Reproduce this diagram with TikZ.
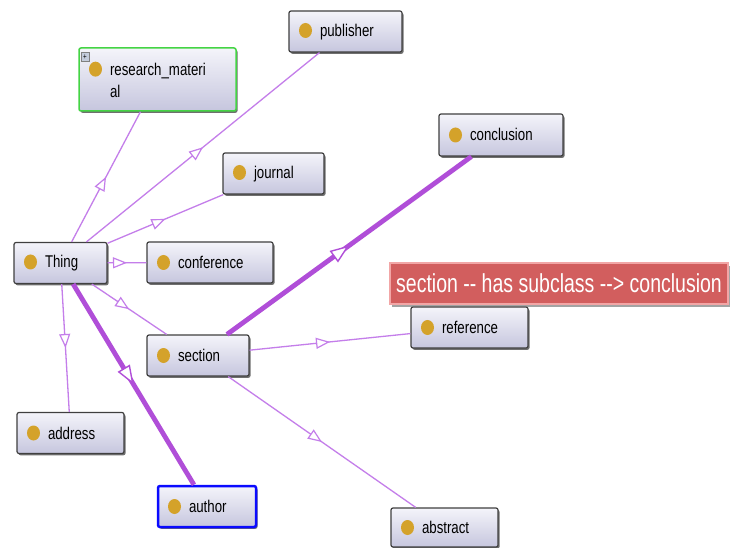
\documentclass[tikz,border=0pt]{standalone}
\usepackage{fontspec}
\setmainfont{Liberation Sans}[FakeStretch=0.78]
\newfontfamily\tipfont{Liberation Sans}[FakeStretch=0.75]
\usetikzlibrary{arrows.meta,decorations.markings,shadows}
\definecolor{thinc}{HTML}{C47EEA}
\definecolor{thickc}{HTML}{B04ED8}
\definecolor{dotc}{HTML}{D4A22A}
\definecolor{bordc}{HTML}{404040}
\definecolor{topc}{HTML}{F4F4FA}
\definecolor{botc}{HTML}{C6C6DE}
\definecolor{tipfill}{HTML}{D25E5E}
\definecolor{tipborder}{HTML}{F2A6A6}
\definecolor{plusc}{HTML}{C4CCDC}
\definecolor{greenb}{HTML}{44D444}
\definecolor{blueb}{HTML}{0A0AFF}
\newcommand{\owldot}{\tikz[x=1cm,y=1cm,baseline=-6pt]\fill[dotc] (0,0) ellipse [x radius=6.5pt, y radius=7.5pt];}
\tikzset{
  owl/.style={draw=bordc, line width=1.2pt, rounded corners=2pt,
    top color=topc, bottom color=botc,
    drop shadow={shadow xshift=1.5pt, shadow yshift=-1.8pt, fill=black!80, opacity=0.7},
    minimum height=41pt, inner xsep=10pt, inner ysep=0pt, align=left,
    text width=#1, font=\fontsize{17}{22}\selectfont},
  isa/.style={color=thinc, line width=1.3pt, postaction={decorate},
    decoration={markings, mark=at position 0.5 with {\arrow{Triangle[open, length=14pt, width=11pt, line width=1.2pt, fill=white]}}}},
  isathick/.style={color=thickc, line width=4.8pt, postaction={decorate},
    decoration={markings, mark=at position 0.5 with {\arrow{Triangle[open, length=19pt, width=14pt, line width=1.4pt, fill=white]}}}},
  tipbox/.style={draw=tipborder, line width=1.2pt, fill=tipfill, text=white,
    drop shadow={shadow xshift=2pt, shadow yshift=-2.5pt, fill=black!60, opacity=0.6},
    minimum width=338pt, minimum height=41pt, inner sep=0pt,
    font=\tipfont\fontsize{26}{28}\selectfont}
}
\begin{document}
\begin{tikzpicture}[x=1pt,y=-1pt]
\fill[white] (0,0) rectangle (731,548);
\useasboundingbox (0,0) rectangle (731,548);

\node[owl=93pt] (publisher) at (345.5,31.5) {\owldot\hspace{8pt}publisher};
\node[owl=137pt, minimum height=63pt, draw=greenb, line width=1.5pt] (research) at (157.5,79.5)
  {\owldot\hspace{8pt}\parbox[t]{110pt}{research\_materi\\al}};
\node[draw=gray, fill=plusc, inner sep=0pt, minimum width=8pt, minimum height=9pt,
  font=\fontsize{8}{8}\selectfont] (plus) at (85,57) {+};
\node[owl=81pt] (journal) at (273.5,173.5) {\owldot\hspace{8pt}journal};
\node[owl=104pt, minimum height=42pt] (conclusion) at (501,135) {\owldot\hspace{8pt}conclusion};
\node[owl=73pt] (Thing) at (60.5,263) {\owldot\hspace{8pt}Thing};
\node[owl=106pt] (conference) at (210,262.5) {\owldot\hspace{8pt}conference};
\node[owl=82pt] (section) at (198,355.5) {\owldot\hspace{8pt}section};
\node[owl=97pt] (reference) at (469.5,327.5) {\owldot\hspace{8pt}reference};
\node[owl=87pt] (address) at (70.5,433) {\owldot\hspace{8pt}address};
\node[owl=78pt, draw=blueb, line width=2.5pt] (author) at (207,506.5) {\owldot\hspace{8pt}author};
\node[owl=87pt, minimum height=39pt] (abstract) at (444.5,527.5) {\owldot\hspace{8pt}abstract};

\draw[isa] (Thing) -- (research);
\draw[isa] (Thing) -- (publisher);
\draw[isa] (Thing) -- (journal);
\draw[isa] (Thing) -- (conference);
\draw[isa] (Thing) -- (section);
\draw[isa] (Thing) -- (address);
\draw[isathick] (Thing) -- (author);
\draw[isathick] (section) -- (conclusion);
\draw[isa] (section) -- (reference);
\draw[isa] (section) -- (abstract);

\node[tipbox] (tooltip) at (559,283.5) {section -{}- has subclass -{}-{}> conclusion};
\end{tikzpicture}
\end{document}
